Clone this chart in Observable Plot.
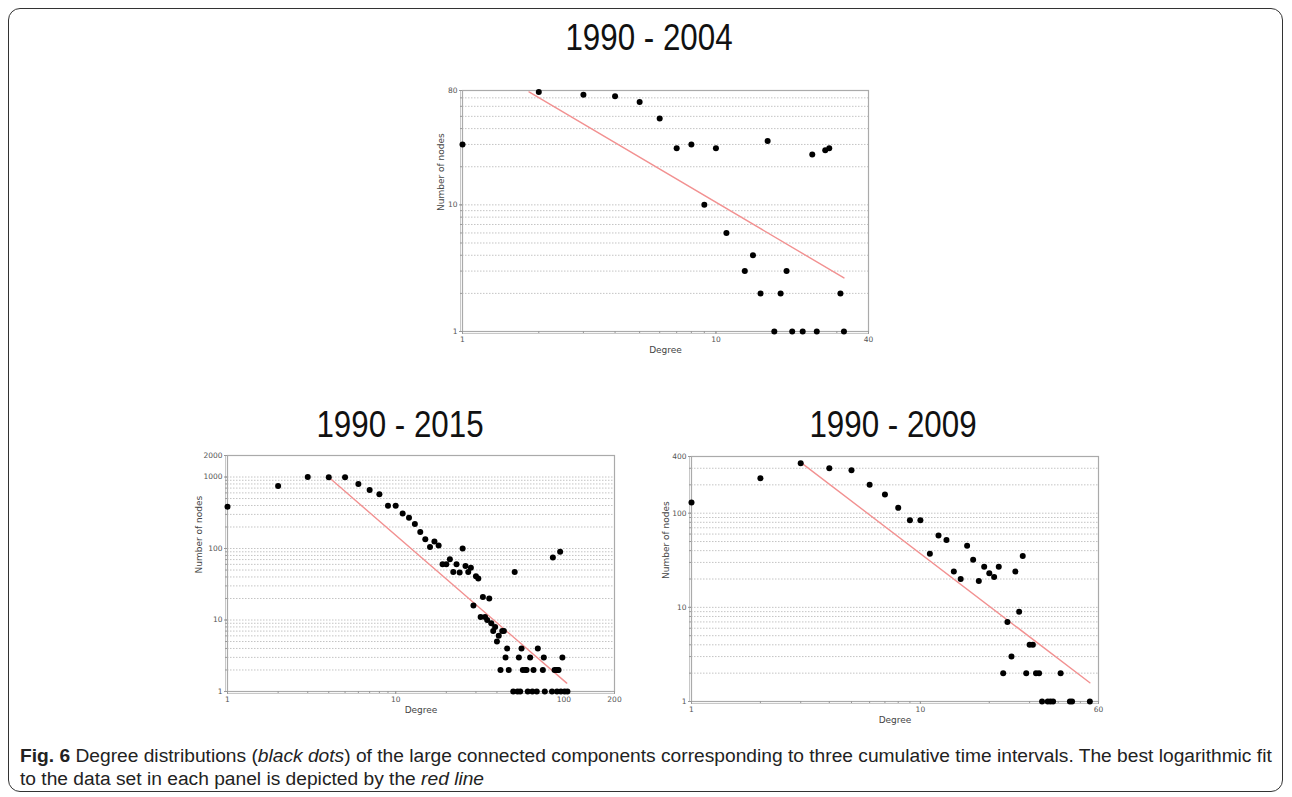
<!DOCTYPE html>
<html><head><meta charset="utf-8">
<script src="https://cdn.jsdelivr.net/npm/d3@7"></script>
<script src="https://cdn.jsdelivr.net/npm/@observablehq/plot@0.6"></script>
<style>
body{margin:0;background:#fff;width:1292px;height:797px;position:relative;overflow:hidden;font-family:"Liberation Sans",Arial,sans-serif}
.border{position:absolute;left:8px;top:8px;width:1275px;height:784px;border:1.5px solid #333;border-radius:12px;box-sizing:border-box}
.title{position:absolute;font-size:36px;line-height:36px;transform:translateX(-50%) scaleX(0.87);white-space:nowrap;color:#111}
.panel{position:absolute}
.caption{position:absolute;left:20px;top:744px;font-size:19.2px;line-height:23px;color:#222;white-space:nowrap}
</style></head><body>
<div class="border"></div>
<div class="title" id="t1" style="left:649px;top:20px"></div>
<div class="title" id="t2" style="left:400px;top:407px"></div>
<div class="title" id="t3" style="left:893px;top:407px"></div>
<div class="panel" id="p1" style="left:412px;top:78px"></div>
<div class="panel" id="p2" style="left:177px;top:443px"></div>
<div class="panel" id="p3" style="left:641px;top:444px"></div>
<div class="caption"><div><b>Fig. 6</b> Degree distributions (<i>black dots</i>) of the large connected components corresponding to three cumulative time intervals. The best logarithmic fit</div><div>to the data set in each panel is depicted by the <i>red line</i></div></div>
<script>
// ---- Data ----
const titles = ["1990 - 2004", "1990 - 2015", "1990 - 2009"];

const deg2004   = [1,2,3,4,5,6,7,8,9,10,11,13,14,15,16,17,18,19,20,22,24,25,27,28,31,32];
const nodes2004 = [30,78,74,72,65,48,28,30,10,28,6,3,4,2,32,1,2,3,1,1,25,1,27,28,2,1];
const fitDeg2004   = [1.83, 32];
const fitNodes2004 = [78, 2.65];
const xTicks2004 = [1, 10, 40];
const yTicks2004 = [1, 10, 80];

const deg2015   = [1,2,3,4,5,6,7,8,9,10,11,12,13,14,15,16,17,18,19,20,21,22,23,24,25,26,27,28,29,30,31,32,33,34,35,36,37,38,39,40,41,43,44,42,45,46,47,51,54,56,57,59,60,63,66,70,75,76,86,95,88,90,92,93,98,50,53,55,61,65,69,77,85,91,96,101,105];
const nodes2015 = [385,750,1000,990,990,800,660,575,395,395,310,270,220,170,135,105,125,110,60,60,71,47,60,46,100,57,47,54,16,41,38,11,21,11,10,20,9,7,8,5,6,7,7,2,3,4,2,47,3,4,2,2,2,3,2,4,2,3,75,90,2,2,2,2,3,1,1,1,1,1,1,1,1,1,1,1,1];
const fitDeg2015   = [4, 104];
const fitNodes2015 = [990, 1.31];
const xTicks2015 = [1, 10, 100, 200];
const yTicks2015 = [1, 10, 100, 1000, 2000];

const deg2009   = [1,2,3,4,5,6,7,8,9,10,11,12,13,14,15,16,17,18,19,20,21,22,23,24,25,26,27,28,29,30,31,32,33,41,34,36,37,38,45,46,55];
const nodes2009 = [130,235,340,300,285,200,158,114,84,84,37,58,52,24,20,45,32,19,27,23,21,27,2,7,3,24,9,35,2,4,4,2,2,2,1,1,1,1,1,1,1];
const fitDeg2009   = [3.05, 55];
const fitNodes2009 = [336, 1.58];
const xTicks2009 = [1, 10, 60];
const yTicks2009 = [1, 10, 100, 400];

// ---- Helpers ----
function logMinor(lo, hi) {
  const out = [];
  for (let p = 1; p <= hi; p *= 10)
    for (let m = 1; m < 10; m++) { const v = m * p; if (v > lo && v < hi) out.push(v); }
  return out;
}

function panel({deg, nodes, fitX, fitY, xTicks, yTicks, frameW, frameH, yLabelDx}) {
  const xDomain = [xTicks[0], xTicks[xTicks.length - 1]];
  const yDomain = [yTicks[0], yTicks[yTicks.length - 1]];
  const pts = deg.map((d, i) => ({x: d, y: nodes[i]}));
  const fit = fitX.map((d, i) => ({x: d, y: fitY[i]}));
  const mL = 50, mR = 20, mT = 12, mB = 40;
  const axisStyle = {stroke: "#999", label: null, tickFormat: () => ""};
  const tickText = {fontSize: 7.5, fill: "#555", fontFamily: "DejaVu Sans, sans-serif"};
  return Plot.plot({
    width: mL + frameW + mR, height: mT + frameH + mB,
    marginLeft: mL, marginRight: mR, marginTop: mT, marginBottom: mB,
    x: {type: "log", domain: xDomain},
    y: {type: "log", domain: yDomain},
    style: {fontFamily: "DejaVu Sans, sans-serif", fontSize: "7.5px", color: "#555", background: "transparent"},
    marks: [
      Plot.ruleY(logMinor(...yDomain), {stroke: "#c4c4c4", strokeDasharray: "1.5,1.5"}),
      Plot.ruleY([yDomain[0]], {stroke: "#c8c8c8", dy: 2}),
      Plot.ruleX([xDomain[0]], {stroke: "#c8c8c8", dx: -2}),
      Plot.frame({stroke: "#aaa", strokeWidth: 1.2}),
      Plot.axisX(logMinor(...xDomain), {...axisStyle, tickSize: 2}),
      Plot.axisX(xTicks, {...axisStyle, tickSize: 3}),
      Plot.axisY(logMinor(...yDomain), {...axisStyle, tickSize: 2}),
      Plot.axisY(yTicks, {...axisStyle, tickSize: 3}),
      Plot.text(xTicks, {...tickText, x: d => d, text: d => String(d), frameAnchor: "bottom", dy: 10}),
      Plot.text(yTicks, {...tickText, y: d => d, text: d => String(d), frameAnchor: "left", dx: -5, textAnchor: "end"}),
      Plot.line(fit, {x: "x", y: "y", stroke: "#f29191", strokeWidth: 1.4}),
      Plot.dot(pts, {x: "x", y: "y", r: 3, fill: "#000", stroke: "none"}),
      Plot.text(["Degree"], {text: d => d, frameAnchor: "bottom", dy: 21, fontSize: 9, fill: "#444"}),
      Plot.text(["Number of nodes"], {text: d => d, frameAnchor: "left", dx: yLabelDx, rotate: -90, fontSize: 9, fill: "#444"})
    ]
  });
}

document.getElementById("t1").textContent = titles[0];
document.getElementById("t2").textContent = titles[1];
document.getElementById("t3").textContent = titles[2];

document.getElementById("p1").append(panel({deg: deg2004, nodes: nodes2004, fitX: fitDeg2004, fitY: fitNodes2004,
  xTicks: xTicks2004, yTicks: yTicks2004, frameW: 406, frameH: 241, yLabelDx: -21}));
document.getElementById("p2").append(panel({deg: deg2015, nodes: nodes2015, fitX: fitDeg2015, fitY: fitNodes2015,
  xTicks: xTicks2015, yTicks: yTicks2015, frameW: 387, frameH: 236, yLabelDx: -28}));
document.getElementById("p3").append(panel({deg: deg2009, nodes: nodes2009, fitX: fitDeg2009, fitY: fitNodes2009,
  xTicks: xTicks2009, yTicks: yTicks2009, frameW: 407, frameH: 245, yLabelDx: -25}));
</script>
</body></html>
